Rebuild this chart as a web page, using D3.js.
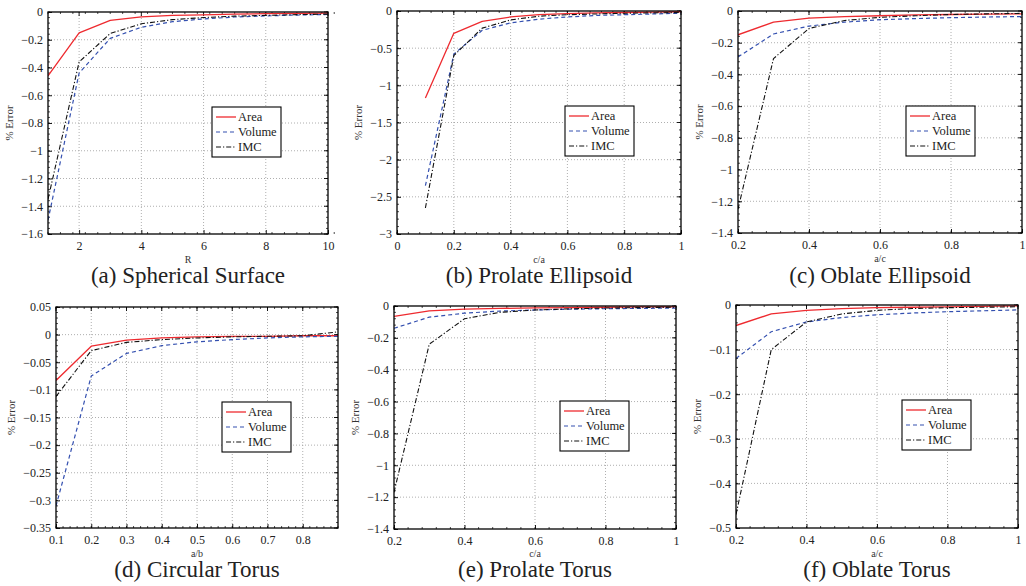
<!DOCTYPE html>
<html><head><meta charset="utf-8">
<script src="https://cdn.jsdelivr.net/npm/d3@7"></script>
<style>
html,body{margin:0;padding:0;background:#fff;}
svg{display:block;}
svg text{font-family:"Liberation Serif","Times New Roman",serif !important;}
</style></head>
<body>
<svg id="chart" width="1026" height="586"></svg>
<script>
// ---------------- DATA ----------------
const seriesNames = ["Area", "Volume", "IMC"];
const captions = ["(a) Spherical Surface", "(b) Prolate Ellipsoid", "(c) Oblate Ellipsoid",
                  "(d) Circular Torus", "(e) Prolate Torus", "(f) Oblate Torus"];
const xLabels = ["R", "c/a", "a/c", "a/b", "c/a", "a/c"];
const yLabel = "% Error";

// (a) Spherical Surface
const xA = [1, 2, 3, 4, 5, 6, 7, 8, 9, 10];
const areaA = [-0.46, -0.15, -0.06, -0.035, -0.025, -0.02, -0.015, -0.012, -0.01, -0.008];
const volA  = [-1.50, -0.44, -0.19, -0.11, -0.07, -0.05, -0.036, -0.028, -0.022, -0.018];
const imcA  = [-1.35, -0.36, -0.155, -0.085, -0.055, -0.04, -0.03, -0.024, -0.019, -0.015];
// (b) Prolate Ellipsoid
const xB = [0.1, 0.2, 0.3, 0.4, 0.5, 0.6, 0.7, 0.8, 0.9, 1.0];
const areaB = [-1.17, -0.30, -0.14, -0.08, -0.05, -0.035, -0.025, -0.02, -0.015, -0.01];
const volB  = [-2.35, -0.58, -0.26, -0.16, -0.11, -0.08, -0.06, -0.05, -0.04, -0.03];
const imcB  = [-2.65, -0.60, -0.23, -0.12, -0.07, -0.05, -0.04, -0.03, -0.025, -0.02];
// (c) Oblate Ellipsoid
const xC = [0.2, 0.3, 0.4, 0.5, 0.6, 0.7, 0.8, 0.9, 1.0];
const areaC = [-0.15, -0.07, -0.045, -0.035, -0.03, -0.025, -0.022, -0.02, -0.018];
const volC  = [-0.29, -0.145, -0.095, -0.07, -0.055, -0.048, -0.042, -0.038, -0.035];
const imcC  = [-1.25, -0.30, -0.11, -0.06, -0.04, -0.03, -0.022, -0.018, -0.015];
// (d) Circular Torus
const xD = [0.1, 0.2, 0.3, 0.4, 0.5, 0.6, 0.7, 0.8, 0.9];
const areaD = [-0.083, -0.021, -0.010, -0.006, -0.004, -0.003, -0.003, -0.002, -0.002];
const volD  = [-0.31, -0.075, -0.034, -0.020, -0.013, -0.009, -0.006, -0.004, -0.003];
const imcD  = [-0.112, -0.029, -0.014, -0.009, -0.006, -0.004, -0.003, -0.002, 0.005];
// (e) Prolate Torus
const xE = [0.2, 0.3, 0.4, 0.5, 0.6, 0.7, 0.8, 0.9, 1.0];
const areaE = [-0.065, -0.03, -0.02, -0.015, -0.012, -0.01, -0.008, -0.006, -0.005];
const volE  = [-0.14, -0.07, -0.045, -0.032, -0.025, -0.02, -0.017, -0.015, -0.013];
const imcE  = [-1.17, -0.24, -0.08, -0.04, -0.025, -0.018, -0.013, -0.01, -0.008];
// (f) Oblate Torus
const xF = [0.2, 0.3, 0.4, 0.5, 0.6, 0.7, 0.8, 0.9, 1.0];
const areaF = [-0.046, -0.02, -0.012, -0.008, -0.006, -0.005, -0.004, -0.003, -0.002];
const volF  = [-0.12, -0.06, -0.038, -0.028, -0.022, -0.018, -0.015, -0.013, -0.011];
const imcF  = [-0.47, -0.10, -0.038, -0.02, -0.012, -0.008, -0.006, -0.005, -0.004];

// axis domains and tick values
const xDomains = [[1, 10], [0, 1], [0.2, 1], [0.1, 0.9], [0.2, 1], [0.2, 1]];
const yDomains = [[-1.6, 0], [-3, 0], [-1.4, 0], [-0.35, 0.05], [-1.4, 0], [-0.5, 0]];
const xTicks = [
  [2, 4, 6, 8, 10],
  [0, 0.2, 0.4, 0.6, 0.8, 1],
  [0.2, 0.4, 0.6, 0.8, 1],
  [0.1, 0.2, 0.3, 0.4, 0.5, 0.6, 0.7, 0.8],
  [0.2, 0.4, 0.6, 0.8, 1],
  [0.2, 0.4, 0.6, 0.8, 1]
];
const yTicks = [
  [-1.6, -1.4, -1.2, -1, -0.8, -0.6, -0.4, -0.2, 0],
  [-3, -2.5, -2, -1.5, -1, -0.5, 0],
  [-1.4, -1.2, -1, -0.8, -0.6, -0.4, -0.2, 0],
  [-0.35, -0.3, -0.25, -0.2, -0.15, -0.1, -0.05, 0, 0.05],
  [-1.4, -1.2, -1, -0.8, -0.6, -0.4, -0.2, 0],
  [-0.5, -0.4, -0.3, -0.2, -0.1, 0]
];
const xMinorStep = [0.4, 0.04, 0.04, 0.02, 0.04, 0.04];
const yMinorStep = [0.04, 0.1, 0.04, 0.01, 0.04, 0.02];

const panelX = [xA, xB, xC, xD, xE, xF];
const panelSeries = [
  [areaA, volA, imcA], [areaB, volB, imcB], [areaC, volC, imcC],
  [areaD, volD, imcD], [areaE, volE, imcE], [areaF, volF, imcF]
];

// ---------------- LAYOUT / STYLE ----------------
const boxes = [
  {l: 48, t: 12, r: 328, b: 234},
  {l: 397, t: 11, r: 681, b: 234},
  {l: 738, t: 11, r: 1022, b: 233},
  {l: 56, t: 307, r: 338, b: 528},
  {l: 394, t: 306, r: 676, b: 529},
  {l: 736, t: 305, r: 1018, b: 528}
];
const captionBaseline = [283, 283, 283, 577, 577, 577];
const styles = [
  {color: "#ee2a2f", dash: null, width: 1.3},
  {color: "#3450b0", dash: "4,3", width: 1.2},
  {color: "#111111", dash: "5,2,1.2,2", width: 1.1}
];
const fmt = v => {
  if (Math.abs(v) < 1e-9) return "0";
  const s = String(+Math.abs(v).toFixed(3));
  return (v < 0 ? "\u2212" : "") + s;
};

const svg = d3.select("#chart");

panelX.forEach((xs, i) => {
  const bx = boxes[i];
  const x = d3.scaleLinear().domain(xDomains[i]).range([bx.l, bx.r]);
  const y = d3.scaleLinear().domain(yDomains[i]).range([bx.b, bx.t]);
  const g = svg.append("g");
  const W = bx.r - bx.l, H = bx.b - bx.t;

  const cid = "clip" + i;
  svg.append("clipPath").attr("id", cid).append("rect")
    .attr("x", bx.l).attr("y", bx.t - 1).attr("width", W).attr("height", H + 2);

  // grid
  const grid = g.append("g").attr("stroke", "#9a9a9a").attr("stroke-width", 0.8)
    .attr("stroke-dasharray", "1,2");
  xTicks[i].forEach(v => {
    if (Math.abs(x(v) - bx.l) < 1 || Math.abs(x(v) - bx.r) < 1) return;
    grid.append("line").attr("x1", x(v)).attr("x2", x(v)).attr("y1", bx.t).attr("y2", bx.b);
  });
  yTicks[i].forEach(v => {
    if (Math.abs(y(v) - bx.t) < 1 || Math.abs(y(v) - bx.b) < 1) return;
    grid.append("line").attr("x1", bx.l).attr("x2", bx.r).attr("y1", y(v)).attr("y2", y(v));
  });

  // minor ticks (inward, all four sides)
  const mt = g.append("g").attr("stroke", "#000").attr("stroke-width", 0.7);
  const [x0, x1] = xDomains[i];
  const nx = Math.round((x1 - x0) / xMinorStep[i]);
  for (let k = 0; k <= nx; k++) {
    const px = x(x0 + k * xMinorStep[i]);
    mt.append("line").attr("x1", px).attr("x2", px).attr("y1", bx.b).attr("y2", bx.b - 2);
    mt.append("line").attr("x1", px).attr("x2", px).attr("y1", bx.t).attr("y2", bx.t + 2);
  }
  const [y0, y1] = yDomains[i];
  const ny = Math.round((y1 - y0) / yMinorStep[i]);
  for (let k = 0; k <= ny; k++) {
    const py = y(y0 + k * yMinorStep[i]);
    mt.append("line").attr("x1", bx.l).attr("x2", bx.l + 2).attr("y1", py).attr("y2", py);
    mt.append("line").attr("x1", bx.r).attr("x2", bx.r - 2).attr("y1", py).attr("y2", py);
  }

  // axes (major ticks inward)
  const xAxis = d3.axisBottom(x).tickValues(xTicks[i]).tickFormat(fmt).tickSizeInner(-4).tickSizeOuter(0).tickPadding(7);
  const yAxis = d3.axisLeft(y).tickValues(yTicks[i]).tickFormat(fmt).tickSizeInner(-4).tickSizeOuter(0).tickPadding(5);
  const gx = g.append("g").attr("transform", `translate(0,${bx.b})`).call(xAxis);
  const gy = g.append("g").attr("transform", `translate(${bx.l},0)`).call(yAxis);
  [gx, gy].forEach(a => {
    a.attr("font-family", null);
    a.select(".domain").remove();
    a.selectAll(".tick line").attr("stroke", "#000").attr("stroke-width", 0.9);
    a.selectAll(".tick text").attr("fill", "#222").style("font-size", "12px");
  });
  xTicks[i].forEach(v => mt.append("line").attr("x1", x(v)).attr("x2", x(v)).attr("y1", bx.t).attr("y2", bx.t + 4).attr("stroke-width", 0.9));
  yTicks[i].forEach(v => mt.append("line").attr("x1", bx.r).attr("x2", bx.r - 4).attr("y1", y(v)).attr("y2", y(v)).attr("stroke-width", 0.9));

  // series lines
  const lines = g.append("g").attr("clip-path", `url(#${cid})`);
  panelSeries[i].forEach((vals, s) => {
    const pts = xs.map((xv, k) => [xv, vals[k]]);
    const line = d3.line().x(d => x(d[0])).y(d => y(d[1]));
    lines.append("path").attr("d", line(pts)).attr("fill", "none")
      .attr("stroke", styles[s].color).attr("stroke-width", styles[s].width)
      .attr("stroke-dasharray", styles[s].dash).attr("stroke-linejoin", "round");
  });

  // box
  g.append("rect").attr("x", bx.l).attr("y", bx.t).attr("width", W).attr("height", H)
    .attr("fill", "none").attr("stroke", "#000").attr("stroke-width", 1.3);

  // y label
  let maxW = 0;
  gy.selectAll(".tick text").each(function() { maxW = Math.max(maxW, this.getBBox().width); });
  const ylx = bx.l - 5 - maxW - 8;
  g.append("text").attr("transform", `translate(${ylx},${(bx.t + bx.b) / 2}) rotate(-90)`)
    .attr("text-anchor", "middle").attr("fill", "#333").style("font-size", "11px").text(yLabel);

  // x label (kept between tick labels and caption)
  const xly = Math.min(bx.b + 28.5, captionBaseline[i] - 20.5);
  g.append("text").attr("x", (bx.l + bx.r) / 2).attr("y", xly)
    .attr("text-anchor", "middle").attr("fill", "#333").style("font-size", "10px").text(xLabels[i]);

  // caption
  g.append("text").attr("x", (bx.l + bx.r) / 2).attr("y", captionBaseline[i])
    .attr("text-anchor", "middle").attr("fill", "#222").style("font-size", "23px").text(captions[i]);

  // legend
  const lw = 69, lh = 50;
  const lx = bx.r - 47 - lw, ly = bx.t + 95;
  const lg = g.append("g");
  lg.append("rect").attr("x", lx).attr("y", ly).attr("width", lw).attr("height", lh)
    .attr("fill", "#fff").attr("stroke", "#000").attr("stroke-width", 1.1);
  seriesNames.forEach((name, s) => {
    const ry = ly + 10 + s * 15;
    lg.append("line").attr("x1", lx + 4).attr("x2", lx + 24).attr("y1", ry).attr("y2", ry)
      .attr("stroke", styles[s].color).attr("stroke-width", styles[s].width)
      .attr("stroke-dasharray", styles[s].dash);
    lg.append("text").attr("x", lx + 26).attr("y", ry + 4).attr("fill", "#222")
      .style("font-size", "12.5px").text(name);
  });
});
</script>
</body></html>
